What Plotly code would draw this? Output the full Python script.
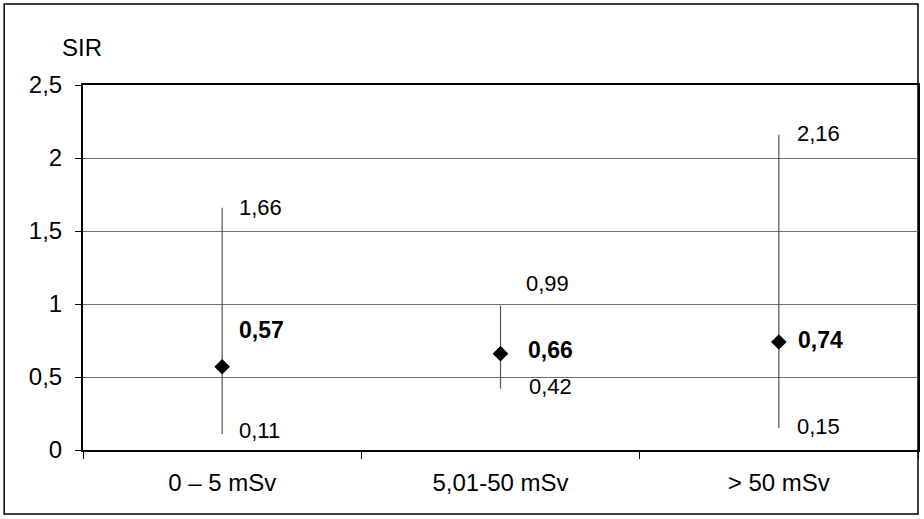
import plotly.graph_objects as go

categories = ["0 – 5 mSv", "5,01-50 mSv", "> 50 mSv"]
sir = [0.57, 0.66, 0.74]
ci_low = [0.11, 0.42, 0.15]
ci_high = [1.66, 0.99, 2.16]

def fmt(v):
    return f"{v:.2f}".replace(".", ",")

FONT = "Liberation Sans, Arial, sans-serif"

fig = go.Figure()
fig.add_trace(go.Scatter(
    x=categories, y=sir, mode="markers",
    marker=dict(symbol="diamond", size=12, color="black"),
    error_y=dict(type="data", symmetric=False,
                 array=[h - v for h, v in zip(ci_high, sir)],
                 arrayminus=[v - l for v, l in zip(sir, ci_low)],
                 width=0, thickness=1.2, color="#555555"),
    showlegend=False, hoverinfo="skip",
))

# label offsets (pixels) per category
xs_hi = [15, 23, 16]
ys_hi = [0, 22, 1]
xs_mid = [15, 25, 17]
ys_mid = [37, 4, 2]
xs_lo = [15, 26, 16]
ys_lo = [3, 2, 2]

ann = []
for i, c in enumerate(categories):
    ann.append(dict(x=c, y=ci_high[i], text=fmt(ci_high[i]), xanchor="left", yanchor="middle",
                    xshift=xs_hi[i], yshift=ys_hi[i], showarrow=False,
                    font=dict(family=FONT, size=22, color="black")))
    ann.append(dict(x=c, y=sir[i], text="<b>" + fmt(sir[i]) + "</b>", xanchor="left", yanchor="middle",
                    xshift=xs_mid[i], yshift=ys_mid[i], showarrow=False,
                    font=dict(family=FONT, size=23, color="black")))
    ann.append(dict(x=c, y=ci_low[i], text=fmt(ci_low[i]), xanchor="left", yanchor="middle",
                    xshift=xs_lo[i], yshift=ys_lo[i], showarrow=False,
                    font=dict(family=FONT, size=22, color="black")))
ann.append(dict(xref="paper", yref="paper", x=-0.028, y=1.104, text="SIR", xanchor="left",
                yanchor="middle", showarrow=False, font=dict(family=FONT, size=24, color="black")))

fig.update_layout(
    width=924, height=519,
    margin=dict(l=83, r=4, t=85, b=69),
    paper_bgcolor="white", plot_bgcolor="white",
    separators=", ",
    font=dict(family=FONT, size=24, color="black"),
    annotations=ann,
    shapes=[dict(type="rect", xref="paper", yref="paper", x0=-0.0944, x1=1.0, y0=-0.1753, y1=1.2219,
                 line=dict(color="black", width=1.5), layer="below")],
)
fig.update_xaxes(
    type="category", range=[-0.5, 2.5], tickson="boundaries", ticks="outside", ticklen=7,
    tickcolor="black", tickwidth=1, showline=True, linecolor="black", linewidth=2, mirror=True,
    showgrid=False, zeroline=False, ticklabelstandoff=10,
    tickfont=dict(family=FONT, size=24, color="black"),
)
fig.update_yaxes(
    range=[0, 2.5], tickvals=[0, 0.5, 1, 1.5, 2, 2.5], ticks="outside", ticklen=6,
    tickcolor="black", tickwidth=1, showline=True, linecolor="black", linewidth=2, mirror=True,
    showgrid=True, gridcolor="#707070", gridwidth=1, zeroline=False, ticklabelstandoff=8,
    tickfont=dict(family=FONT, size=24, color="black"),
)

fig.write_html("out.html", config={"displayModeBar": False},
               post_script="document.body.style.margin='0';document.body.style.overflow='hidden';")
